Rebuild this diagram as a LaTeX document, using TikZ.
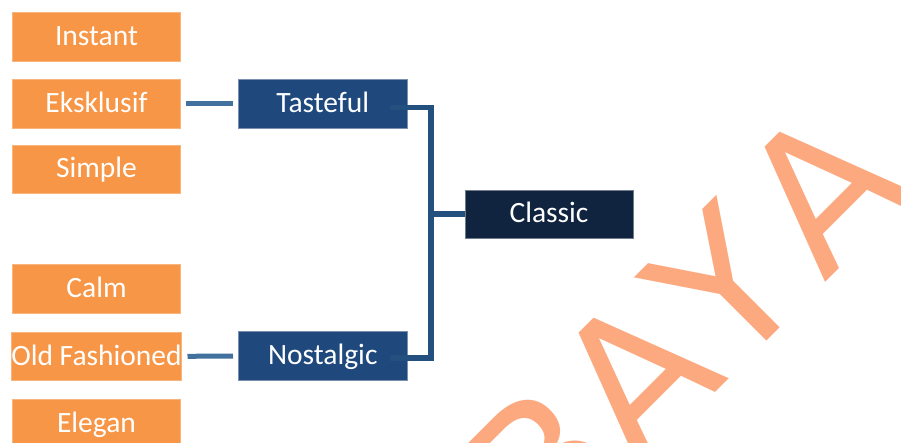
\documentclass[tikz,border=0pt]{standalone}
\usepackage{fontspec}
\setmainfont{Carlito}
\newfontfamily\markfont{DejaVu Sans}
\usetikzlibrary{calc}

\definecolor{boxorange}{HTML}{F79646}
\definecolor{boxblue}{HTML}{1F497D}
\definecolor{boxnavy}{HTML}{10243F}
\definecolor{linkblue}{HTML}{41719C}
\definecolor{bracketblue}{HTML}{24507F}
\definecolor{markorange}{HTML}{FCA97F}

\tikzset{
  cell/.style={minimum width=168pt, minimum height=48.5pt, inner sep=0pt,
    text=white, font=\fontsize{29.5}{32}\selectfont,
    text height=22.5pt, text depth=5pt},
  attr/.style={cell, fill=boxorange, draw=boxorange!70!white, line width=0.6pt},
  group/.style={cell, minimum width=169pt, fill=boxblue, draw=boxblue!60!white, line width=0.6pt},
  top/.style={cell, fill=boxnavy, draw=boxnavy!60!white, line width=0.6pt},
  link/.style={draw=linkblue, line width=5pt},
  bracket/.style={draw=bracketblue, line width=5.5pt},
  markletter/.style={rotate=45, anchor=base, inner sep=0pt, text=markorange,
    font=\markfont\fontsize{190}{190}\selectfont}
}

\begin{document}
\begin{tikzpicture}[x=1pt, y=-1pt]
  \clip (0,0) rectangle (901,442);
  \fill[white] (0,0) rectangle (901,442);

  % attribute boxes
  \node[attr] (instant)  at (96.5, 37.0)  {Instant};
  \node[attr] (eksklusif) at (96.5, 103.7) {Eksklusif};
  \node[attr] (simple)   at (96.5, 169.2) {Simple};
  \node[attr] (calm)     at (96.5, 288.7) {Calm};
  \node[attr] (oldfash)  at (96.5, 356.3) {Old Fashioned};
  \node[attr] (elegan)   at (96.5, 423.6) {Elegan};

  % group boxes
  \node[group] (tasteful)  at (322.8, 103.7) {Tasteful};
  \node[group] (nostalgic) at (322.8, 356.0) {Nostalgic};

  % top box
  \node[top] (classic) at (549.0, 214.2) {Classic};

  % links from attributes to groups
  \draw[link] ($(eksklusif.east)+(5.5,0)$) -- ($(tasteful.west)+(-5,0)$);
  \draw[link] ($(oldfash.east)+(5.5,0)$) -- ($(nostalgic.west)+(-5,0)$);

  % bracket joining the groups to the top box
  \coordinate (join) at (431, 214.2);
  \draw[bracket] ($(tasteful.east)+(-18,4)$) -| (join)
                 |- ($(nostalgic.east)+(-18,2)$);
  \draw[bracket] (join) -- (classic.west);

  % diagonal watermark letters, set along one 45-degree baseline
  \node[markletter] (markB)  at (591.5, 516.5) {B};
  \node[markletter] (markA1) at (684.1, 423.9) {A};
  \node[markletter] (markY)  at (773.9, 334.1) {Y};
  \node[markletter] (markA2) at (870.1, 237.9) {A};
\end{tikzpicture}
\end{document}
